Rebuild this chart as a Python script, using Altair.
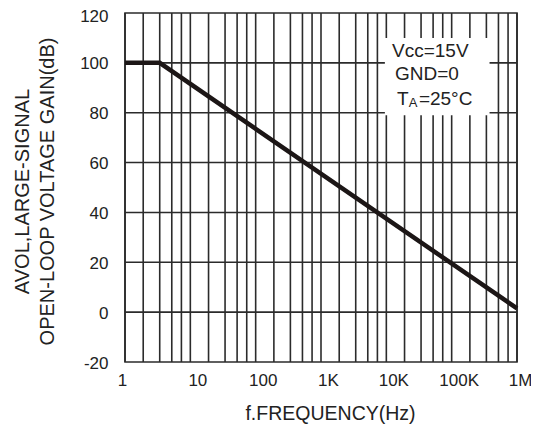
import altair as alt
import pandas as pd

# Open-loop gain curve
freq = [1, 3.4, 1000000]
gain = [100, 100, 1.5]

# Axis ticks
x_tick_values = [1, 10, 100, 1000, 10000, 100000, 1000000]
x_tick_labels = ["1", "10", "100", "1K", "10K", "100K", "1M"]
y_tick_values = [-20, 0, 20, 40, 60, 80, 100, 120]

# Grid lines (as drawn on the original sheet)
grid_mult = [1, 1.9, 3.4, 5.2, 7.3]
grid_decades = [1, 10, 100, 1000, 10000, 100000]
hgrid = [0, 20, 40, 60, 80, 100]

# Conditions box and notes
box_freq = [9500, 380000]
box_gain = [79, 110]
note_text = ["Vcc=15V", "GND=0", "T", "A", "=25°C"]
note_freq = [12200, 13600, 14600, 22000, 31500]
note_gain = [104.7, 95.5, 85.5, 84.0, 85.5]
note_size = [19, 19, 19, 13, 19]

FONT = "Liberation Sans"
INK = "#222222"
GRID = "#2b2b2b"

vgrid = [d * m for d in grid_decades for m in grid_mult] + [1000000]

line_df = pd.DataFrame({"f": freq, "g": gain})
vgrid_df = pd.DataFrame({"f": vgrid})
hgrid_df = pd.DataFrame({"g": hgrid})
box_df = pd.DataFrame({"f": [box_freq[0]], "f2": [box_freq[1]],
                       "g": [box_gain[0]], "g2": [box_gain[1]]})
note_df = pd.DataFrame({"t": note_text, "f": note_freq, "g": note_gain, "s": note_size})

xscale = alt.Scale(type="log", domain=[1, 1000000], nice=False)
yscale = alt.Scale(domain=[-20, 120], nice=False, zero=False)

label_expr = ""
for v, l in zip(x_tick_values, x_tick_labels):
    label_expr += f"datum.value == {v} ? '{l}' : "
label_expr += "''"

x_axis = alt.Axis(
    values=x_tick_values, labelExpr=label_expr, grid=False, ticks=False, domain=False,
    labelFont=FONT, labelFontSize=17, labelColor=INK, labelPadding=10,
    labelFlush=False, labelOverlap=False,
    labelOffset={"condition": [{"test": "datum.value == 1", "value": -3},
                               {"test": "datum.value >= 1000000", "value": 3}],
                 "value": 7},
    title="f.FREQUENCY(Hz)", titleFont=FONT, titleFontSize=19.5, titleFontWeight="normal",
    titleColor=INK, titleX=205, titleY=42,
)
y_axis = alt.Axis(
    values=y_tick_values, labelExpr="'' + datum.value", grid=False, ticks=False, domain=False,
    labelFont=FONT, labelFontSize=17, labelColor=INK, labelPadding=17,
    labelFlush=False, labelOverlap=False,
    labelOffset={"condition": {"test": "datum.value >= 120", "value": 3.8}, "value": 1},
    title=["AVOL,LARGE-SIGNAL", "OPEN-LOOP VOLTAGE GAIN(dB)"],
    titleFont=FONT, titleFontSize=20, titleFontWeight="normal", titleColor=INK,
    titleLineHeight=25, titleX=-93, titleY=178, titleBaseline="bottom",
)

X = alt.X("f:Q", scale=xscale, axis=x_axis)
Y = alt.Y("g:Q", scale=yscale, axis=y_axis)

vrules = alt.Chart(vgrid_df).mark_rule(color=GRID, strokeWidth=1.6).encode(x=X)
hrules = alt.Chart(hgrid_df).mark_rule(color=GRID, strokeWidth=1.6).encode(y=Y)
box = alt.Chart(box_df).mark_rect(color="white").encode(x=X, x2="f2:Q", y=Y, y2="g2:Q")
curve = alt.Chart(line_df).mark_line(color="#1c1616", strokeWidth=4.5, strokeCap="butt").encode(
    x=X, y=Y
)
notes = alt.Chart(note_df).mark_text(align="left", baseline="middle", font=FONT, color=INK).encode(
    x=X, y=Y,
    text="t:N",
    size=alt.Size("s:Q", scale=None, legend=None),
)

chart = alt.layer(vrules, hrules, box, curve, notes).properties(
    width=392, height=349,
    autosize=alt.AutoSizeParams(type="none"),
    padding={"left": 117, "top": 5, "right": 14, "bottom": 67},
    background="white",
).configure_view(stroke=GRID, strokeWidth=1.6)

chart.save("out.html", embed_options={"renderer": "svg", "actions": False})
